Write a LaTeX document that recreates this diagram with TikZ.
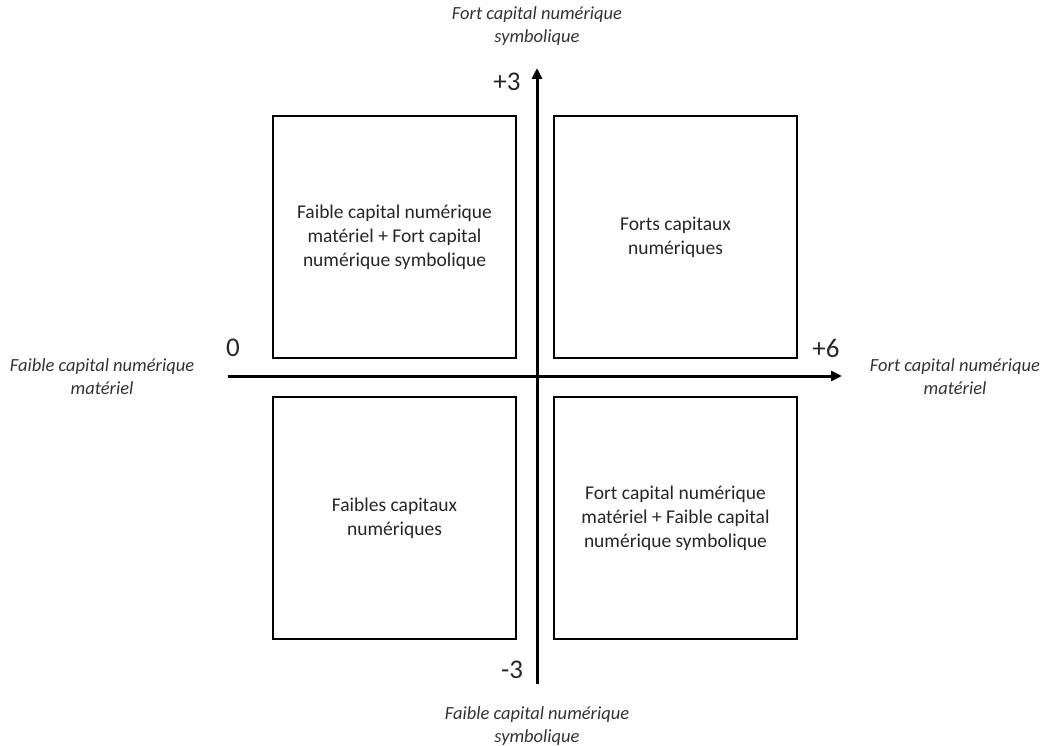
\documentclass[tikz,border=0pt]{standalone}
\usepackage{fontspec}
\setmainfont{Carlito}
\usetikzlibrary{arrows.meta}
\begin{document}
\begin{tikzpicture}[x=1pt,y=-1pt,
  quad/.style={draw=black, line width=2pt, minimum width=243pt, minimum height=242pt, inner sep=0pt, align=center, text=black!85, font=\fontsize{19.5}{24}\selectfont},
  axis/.style={line width=3pt, -{Triangle[length=11pt,width=10pt]}},
  axlab/.style={align=center, font=\fontsize{18.5}{23}\selectfont\itshape, text=black!80},
  num/.style={font=\fontsize{27}{30}\selectfont, text=black!85}]
\useasboundingbox (0,0) rectangle (1058,746);
\node[quad] (tl) at (394.5,237) {Faible capital numérique\\matériel + Fort capital\\numérique symbolique};
\node[quad] (tr) at (675.5,237) {Forts capitaux\\numériques};
\node[quad] (bl) at (394.5,518) {Faibles capitaux\\numériques};
\node[quad] (br) at (675.5,518) {Fort capital numérique\\matériel + Faible capital\\numérique symbolique};
\coordinate (vbot) at (537,684);
\coordinate (vtop) at (537,68);
\coordinate (hleft) at (228,376);
\coordinate (hright) at (842,376);
\draw[axis] (vbot) -- (vtop);
\draw[axis] (hleft) -- (hright);
\node[num] (p3) at (507,82) {+3};
\node[num] (m3) at (512,670) {-3};
\node[num] (z) at (233,348) {0};
\node[num] (p6) at (826,348) {+6};
\node[axlab] (top) at (537,26) {Fort capital numérique\\symbolique};
\node[axlab] (bot) at (537,726) {Faible capital numérique\\symbolique};
\node[axlab] (lft) at (102,377) {Faible capital numérique\\matériel};
\node[axlab] (rgt) at (955,377) {Fort capital numérique\\matériel};
\end{tikzpicture}
\end{document}
